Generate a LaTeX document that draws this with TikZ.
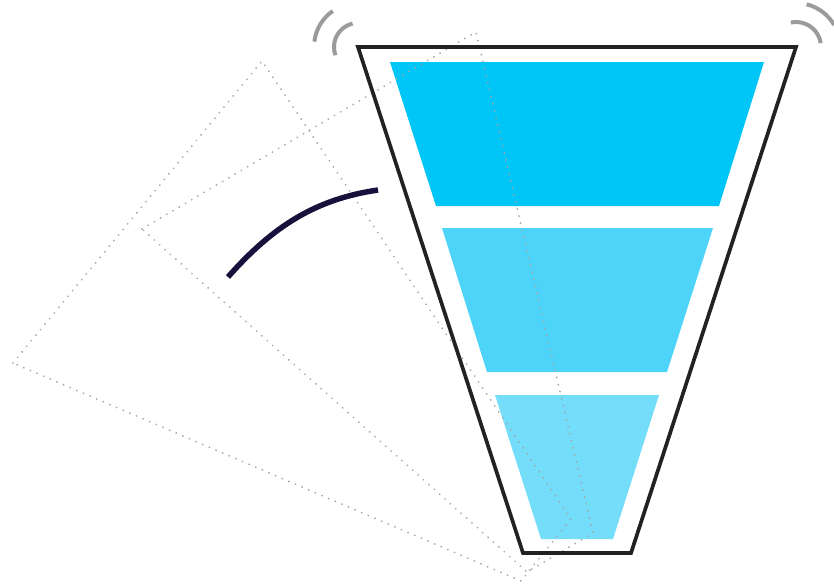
\documentclass[tikz,border=0pt]{standalone}
\definecolor{bandA}{RGB}{0,197,247}
\definecolor{bandB}{RGB}{77,212,248}
\definecolor{bandC}{RGB}{115,221,250}
\definecolor{outlinecol}{RGB}{34,34,34}
\definecolor{navycol}{RGB}{26,16,60}
\definecolor{shakecol}{RGB}{155,155,155}
\definecolor{ghostcol}{RGB}{165,165,165}
\begin{document}
\begin{tikzpicture}[x=1pt,y=-1pt,
  ghostline/.style={draw=ghostcol, line width=2pt, dash pattern=on 0.01pt off 7.2pt, line cap=round},
  funnelline/.style={draw=outlinecol, line width=3.7pt, line join=miter},
  shakearc/.style={draw=shakecol, line width=4pt},
  swing/.style={draw=navycol, line width=5.5pt}]
\useasboundingbox (0,0) rectangle (834,587);
% funnel corners
\coordinate (ftl) at (358,47);
\coordinate (ftr) at (796,47);
\coordinate (fbr) at (631,553);
\coordinate (fbl) at (523,553);
% bands
\fill[bandA] (390,62) -- (764,62) -- (719,206) -- (436,206) -- cycle;
\fill[bandB] (442,228) -- (713,228) -- (667,372) -- (487,372) -- cycle;
\fill[bandC] (495,395) -- (659,395) -- (613,539) -- (541,539) -- cycle;
% ghost outlines
\coordinate (gatl) at (142,229);
\coordinate (gatr) at (476,32);
\coordinate (gabr) at (593,533);
\coordinate (gabl) at (527,572);
\coordinate (gbtl) at (13,363);
\coordinate (gbtr) at (262,61);
\coordinate (gbbr) at (571,519);
\coordinate (gbbl) at (521,581);
\draw[ghostline] (gatl) -- (gatr) -- (gabr) -- (gabl) -- cycle;
\draw[ghostline] (gbtl) -- (gbtr) -- (gbbr) -- (gbbl) -- cycle;
% funnel outline
\draw[funnelline] (ftl) -- (ftr) -- (fbr) -- (fbl) -- cycle;
% swing line
\coordinate (sw1) at (228,277);
\coordinate (sw2) at (378,190);
\draw[swing] (sw1) .. controls (273,226) and (316,199) .. (sw2);
% shake arcs
\draw[shakearc] ([shift={(-125:44)}]ftl) arc[start angle=-125, end angle=-173, radius=44];
\draw[shakearc] ([shift={(-103:24)}]ftl) arc[start angle=-103, end angle=-200, radius=24];
\draw[shakearc] ([shift={(-30:44)}]ftr) arc[start angle=-30, end angle=-76, radius=44];
\draw[shakearc] ([shift={(-9:25)}]ftr) arc[start angle=-9, end angle=-102, radius=25];
\end{tikzpicture}
\end{document}
